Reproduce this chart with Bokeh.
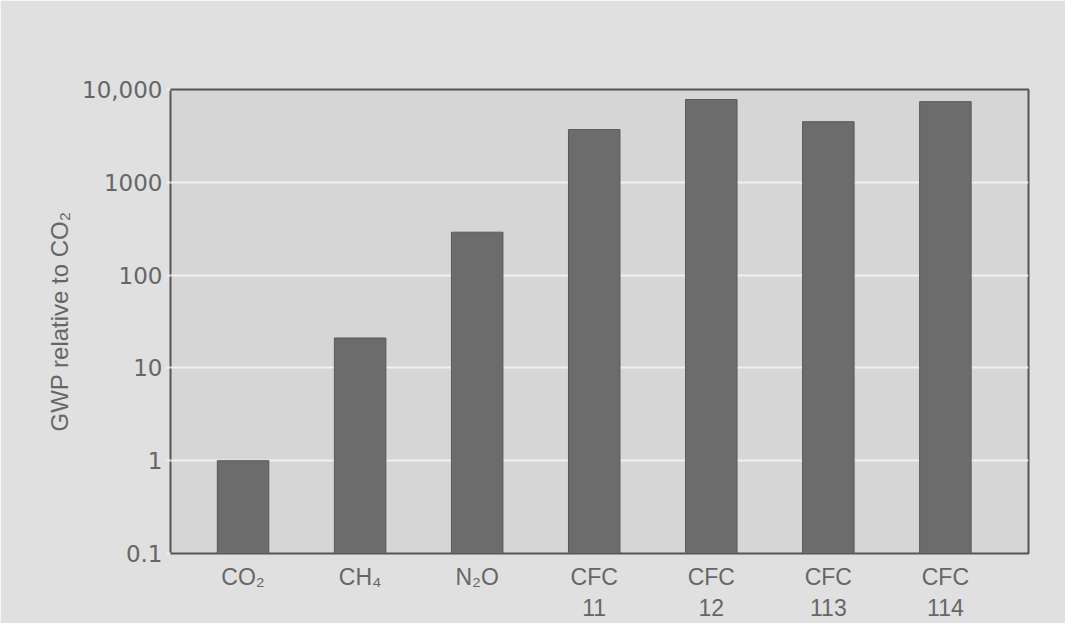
from bokeh.plotting import figure
from bokeh.models import FixedTicker, Range1d, ColumnDataSource
from bokeh.embed import file_html
from bokeh.resources import INLINE

gases = ["CO₂", "CH₄", "N₂O", "CFC\n11", "CFC\n12", "CFC\n113", "CFC\n114"]
gwp = [1, 21, 290, 3700, 7800, 4500, 7400]
y_ticks = [0.1, 1, 10, 100, 1000, 10000]
y_tick_labels = ["0.1", "1", "10", "100", "1000", "10,000"]

xs = list(range(len(gases)))
src = ColumnDataSource(dict(x=xs, top=gwp, bottom=[0.1] * len(gwp)))

p = figure(width=1065, height=623, y_axis_type="log",
           x_range=Range1d(-0.62, 6.71), y_range=Range1d(0.1, 10000),
           output_backend="svg", toolbar_location=None,
           min_border_left=170, min_border_top=89, min_border_right=37,
           min_border_bottom=50)

p.background_fill_color = "#d6d6d6"
p.border_fill_color = "#e0e0e0"
p.outline_line_color = "#555555"
p.outline_line_width = 2

p.vbar(x="x", top="top", bottom="bottom", width=0.44, source=src,
       fill_color="#6c6c6c", line_color="#5a5a5a", line_width=1)

p.xgrid.grid_line_color = None
p.ygrid.ticker = FixedTicker(ticks=[1, 10, 100, 1000])
p.ygrid.grid_line_color = "#f0f0f0"
p.ygrid.grid_line_width = 2

p.yaxis.ticker = FixedTicker(ticks=y_ticks, minor_ticks=[])
p.yaxis.major_label_overrides = {t: l for t, l in zip(y_ticks, y_tick_labels)}
p.yaxis.axis_label = "GWP relative to CO₂"
p.yaxis.axis_label_text_font = "Liberation Sans"
p.yaxis.axis_label_text_font_style = "normal"
p.yaxis.axis_label_text_font_size = "24px"
p.yaxis.axis_label_text_color = "#666666"
p.yaxis.axis_label_standoff = 6
p.yaxis.major_label_text_font = "DejaVu Sans"
p.yaxis.major_label_text_font_size = "23px"
p.yaxis.major_label_text_color = "#666666"
p.yaxis.major_label_standoff = 4
p.yaxis.major_tick_line_color = "#eeeeee"
p.yaxis.major_tick_line_width = 2
p.yaxis.major_tick_out = 4
p.yaxis.major_tick_in = 0
p.yaxis.axis_line_color = None

p.xaxis.ticker = FixedTicker(ticks=xs)
p.xaxis.major_label_overrides = {i: g for i, g in zip(xs, gases)}
p.xaxis.major_label_text_font = "Liberation Sans"
p.xaxis.major_label_text_font_size = "23px"
p.xaxis.major_label_text_color = "#666666"
p.xaxis.major_label_standoff = 4
p.xaxis.major_tick_line_color = None
p.xaxis.minor_tick_line_color = None
p.xaxis.axis_line_color = None

open("out.html", "w").write(file_html(p, INLINE))
